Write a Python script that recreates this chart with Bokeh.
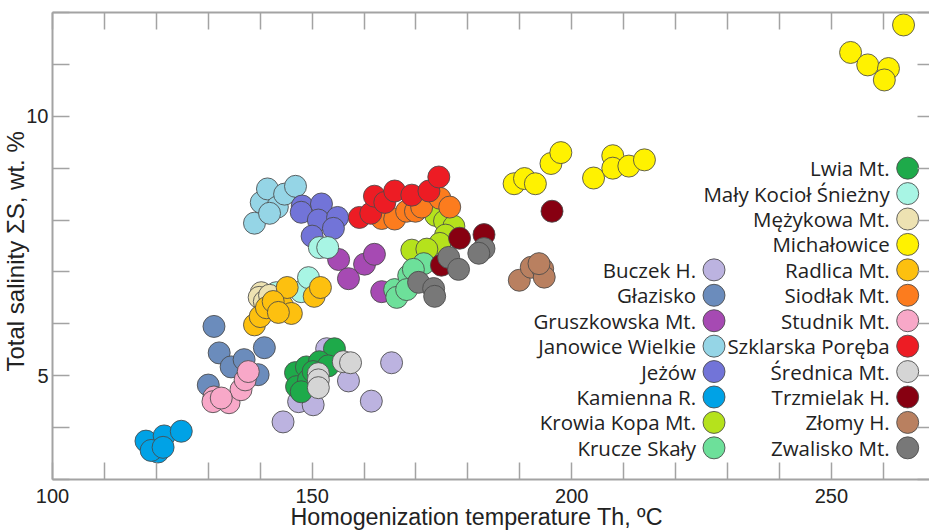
from bokeh.plotting import figure
from bokeh.models import FixedTicker, LinearAxis, Range1d, ColumnDataSource, Title
from bokeh.core.properties import value
from bokeh.embed import file_html
from bokeh.resources import INLINE

# ---------------- data (Th in deg C, total salinity in wt. %) ----------------
buczek_th = [152.8, 147.4, 150.2, 157.0, 161.4, 165.3, 144.4]
buczek_s = [5.52, 4.50, 4.44, 4.90, 4.51, 5.25, 4.11]
glazisko_th = [131.1, 132.1, 134.4, 136.9, 140.8, 139.6, 130.0]
glazisko_s = [5.95, 5.44, 5.17, 5.31, 5.54, 5.02, 4.82]
gruszkowska_th = [155.1, 157.0, 160.1, 162.0, 163.4]
gruszkowska_s = [7.24, 6.87, 7.15, 7.34, 6.62]
janowice_th = [138.9, 140.2, 141.4, 143.3, 144.7, 146.8, 141.8]
janowice_s = [7.94, 8.34, 8.60, 8.25, 8.50, 8.65, 8.13]
jezow_th = [148.1, 147.9, 151.8, 151.2, 154.9, 154.1, 150.0]
jezow_s = [8.27, 8.15, 8.31, 8.00, 8.05, 7.84, 7.69]
kamienna_th = [118.0, 120.3, 121.5, 124.8, 119.0, 121.3]
kamienna_s = [3.74, 3.53, 3.84, 3.93, 3.56, 3.62]
krowia_th = [173.8, 175.5, 177.3, 175.7, 174.6, 169.2, 172.1]
krowia_s = [8.09, 7.98, 7.88, 7.71, 7.55, 7.42, 7.44]
krucze_th = [165.9, 166.3, 168.6, 171.5, 169.5, 168.2]
krucze_s = [6.66, 6.51, 6.93, 7.16, 7.05, 6.66]
lwia_th = [154.3, 146.8, 147.0, 148.9, 151.4, 153.1, 149.3, 147.9, 150.2]
lwia_s = [5.52, 5.06, 4.79, 5.17, 5.27, 5.19, 4.92, 4.69, 5.08]
maly_th = [151.4, 153.0, 143.1, 147.9, 149.3]
maly_s = [7.47, 7.47, 6.60, 6.62, 6.89]
mezykowa_th = [140.2, 139.8, 140.8, 141.8]
mezykowa_s = [6.60, 6.51, 6.43, 6.55]
michalowice_th = [263.9, 253.7, 257.0, 261.0, 260.2, 188.9, 190.9, 193.0, 196.0, 197.9,
                  204.2, 207.9, 207.9, 211.0, 214.0]
michalowice_s = [11.76, 11.23, 10.99, 10.92, 10.70, 8.70, 8.80, 8.70, 9.09, 9.30,
                 8.81, 9.24, 9.00, 9.04, 9.16]
radlica_th = [138.9, 140.0, 141.2, 144.3, 146.0, 145.2, 150.4, 151.6, 142.5, 143.5]
radlica_s = [5.98, 6.14, 6.31, 6.35, 6.20, 6.70, 6.53, 6.70, 6.43, 6.22]
siodlak_th = [163.4, 165.9, 168.2, 169.9, 171.1, 174.6, 176.5]
siodlak_s = [8.03, 8.02, 8.17, 8.17, 8.25, 8.42, 8.25]
studnik_th = [131.1, 130.9, 134.0, 136.3, 137.1, 137.7, 132.5]
studnik_s = [4.59, 4.50, 4.48, 4.73, 4.92, 5.08, 4.57]
szklarska_th = [159.1, 161.3, 162.0, 164.0, 165.9, 169.2, 172.5, 174.4]
szklarska_s = [8.05, 8.13, 8.46, 8.34, 8.56, 8.48, 8.56, 8.83]
srednica_th = [156.0, 157.4, 151.2, 151.2, 151.2]
srednica_s = [5.27, 5.25, 5.04, 4.92, 4.77]
trzmielak_th = [178.4, 183.1, 174.9, 196.2]
trzmielak_s = [7.65, 7.72, 7.13, 8.17]
zlomy_th = [189.9, 192.2, 194.4, 194.7, 193.7]
zlomy_s = [6.84, 7.09, 7.06, 6.90, 7.16]
zwalisko_th = [176.3, 178.2, 183.1, 182.1, 170.5, 173.4, 173.6]
zwalisko_s = [7.28, 7.05, 7.45, 7.36, 6.80, 6.68, 6.53]

site_names = ["Buczek H.", "Głazisko", "Gruszkowska Mt.", "Janowice Wielkie", "Jeżów",
              "Kamienna R.", "Krowia Kopa Mt.", "Krucze Skały",
              "Lwia Mt.", "Mały Kocioł Śnieżny", "Mężykowa Mt.", "Michałowice",
              "Radlica Mt.", "Siodłak Mt.", "Studnik Mt.", "Szklarska Poręba",
              "Średnica Mt.", "Trzmielak H.", "Złomy H.", "Zwalisko Mt."]
site_colors = ["#bcb3e0", "#6b8cbc", "#a64ab3", "#95d5e6", "#7274d8",
               "#00a2e6", "#b5e21c", "#6de09a",
               "#1eaa4a", "#a8f5e4", "#ede2b2", "#fff200",
               "#fdc00f", "#fc7c1e", "#f8a8c8", "#ed1c24",
               "#d5d5d5", "#870011", "#b98060", "#787878"]
site_th = [buczek_th, glazisko_th, gruszkowska_th, janowice_th, jezow_th, kamienna_th,
           krowia_th, krucze_th, lwia_th, maly_th, mezykowa_th, michalowice_th,
           radlica_th, siodlak_th, studnik_th, szklarska_th, srednica_th, trzmielak_th,
           zlomy_th, zwalisko_th]
site_s = [buczek_s, glazisko_s, gruszkowska_s, janowice_s, jezow_s, kamienna_s,
          krowia_s, krucze_s, lwia_s, maly_s, mezykowa_s, michalowice_s,
          radlica_s, siodlak_s, studnik_s, szklarska_s, srednica_s, trzmielak_s,
          zlomy_s, zwalisko_s]

x_major = [100, 150, 200, 250]
x_minor = [110, 120, 130, 140, 160, 170, 180, 190, 210, 220, 230, 240, 260]
y_major = [5, 10]
y_minor = [3, 4, 6, 7, 8, 9, 11, 12]

x_title = "Homogenization temperature Th, ºC"
y_title = "Total salinity ΣS, wt. %"

# ---------------- styling ----------------
AXIS_GRAY = "#a3a3a3"
TEXT = "#222222"
AXIS_FONT = "Liberation Sans"
LEG_FONT = "Open Sans"
X0, X1 = 100, 268.9
Y0, Y1 = 3, 12

p = figure(width=929, height=532, x_range=Range1d(X0, X1), y_range=Range1d(Y0, Y1),
           output_backend="svg", toolbar_location=None,
           min_border_left=52, min_border_right=0, min_border_top=12, min_border_bottom=53)
p.outline_line_color = None
p.xgrid.visible = False
p.ygrid.visible = False
p.background_fill_color = "white"
p.border_fill_color = "white"


def style_axis(ax, ticks, minor, tick_len=17, line=True):
    ax.ticker = FixedTicker(ticks=ticks, minor_ticks=minor)
    ax.major_tick_in = tick_len
    ax.major_tick_out = 0
    ax.minor_tick_in = tick_len
    ax.minor_tick_out = 0
    ax.major_tick_line_color = AXIS_GRAY
    ax.minor_tick_line_color = AXIS_GRAY
    ax.major_tick_line_width = 1.5
    ax.minor_tick_line_width = 1.5
    ax.axis_line_color = AXIS_GRAY if line else None
    ax.axis_line_width = 2
    ax.major_label_text_font = AXIS_FONT
    ax.major_label_text_font_size = "20px"
    ax.major_label_text_color = TEXT


style_axis(p.xaxis[0], x_major, x_minor)
p.xaxis[0].major_label_standoff = 9
style_axis(p.yaxis[0], y_major, y_minor)
p.yaxis[0].major_label_standoff = 4

# top and right edges: tick marks only (all as minor ticks, so no labels)
top_ax = LinearAxis()
style_axis(top_ax, [], sorted(x_major + x_minor))
p.add_layout(top_ax, "above")
right_ax = LinearAxis()
style_axis(right_ax, [], sorted(y_major + y_minor), tick_len=12, line=False)
p.add_layout(right_ax, "right")

# axis titles
p.add_layout(Title(text=x_title, align="left", offset=238, standoff=-8,
                   text_font=AXIS_FONT, text_font_size="23.3px", text_font_style="normal",
                   text_color=TEXT), "below")
p.add_layout(Title(text=y_title, align="left", offset=108, standoff=-10,
                   text_font=AXIS_FONT, text_font_size="24px", text_font_style="normal",
                   text_color=TEXT), "left")

# ---------------- data points ----------------
for th, s, col in zip(site_th, site_s, site_colors):
    p.scatter(th, s, size=22, fill_color=col, line_color="#4a4a4a", line_width=1,
              line_alpha=0.85)

# ---------------- legend (two right-aligned columns, marker right of text) ----------------
leg_top = 9.0
leg_step = 0.49
col1_x = 227.4
col2_x = 264.7
leg_x, leg_y = [], []
for i in range(len(site_names)):
    if i < 8:
        leg_x.append(col1_x)
        leg_y.append(leg_top - leg_step * (i + 4))
    else:
        leg_x.append(col2_x)
        leg_y.append(leg_top - leg_step * (i - 8))
leg_src = ColumnDataSource(dict(x=leg_x, y=leg_y, name=site_names, color=site_colors))
p.scatter("x", "y", source=leg_src, size=22, fill_color="color", line_color="#4a4a4a",
          line_width=1, line_alpha=0.85)
p.text("x", "y", text="name", source=leg_src, x_offset=-18, text_align="right",
       text_baseline="middle", text_font=value(LEG_FONT), text_font_size="20.5px",
       text_color=TEXT)

open("out.html", "w").write(file_html(p, INLINE))
